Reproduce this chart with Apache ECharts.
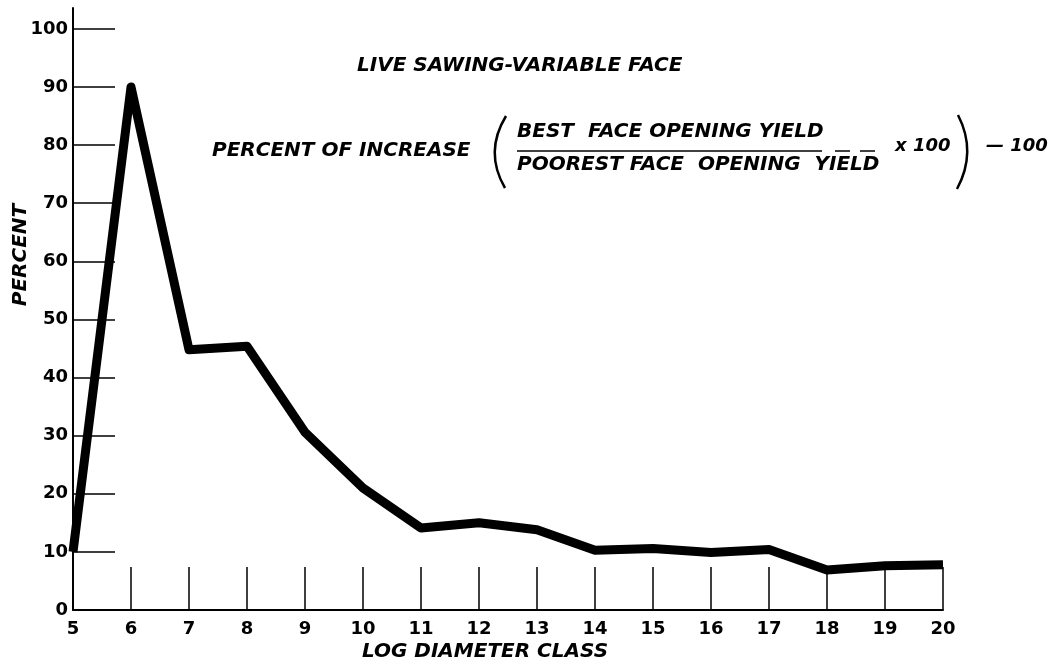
<!DOCTYPE html>
<html>
<head>
<meta charset="utf-8">
<script src="https://cdn.jsdelivr.net/npm/echarts@6/dist/echarts.min.js"></script>
<style>
html,body{margin:0;padding:0;background:#fff;}
#chart{width:1061px;height:669px;}
</style>
</head>
<body>
<div id="chart"></div>
<script>
// Data
const diameterClasses = [5, 6, 7, 8, 9, 10, 11, 12, 13, 14, 15, 16, 17, 18, 19, 20];
const percentIncrease = [10, 90, 44.8, 45.4, 30.6, 21, 14.1, 15, 13.8, 10.3, 10.6, 9.9, 10.4, 6.9, 7.6, 7.8];
const yTickValues = [0, 10, 20, 30, 40, 50, 60, 70, 80, 90, 100];
const yTickMarks = [10, 20, 30, 40, 50, 60, 70, 80, 90, 100];
const titleText = 'LIVE SAWING-VARIABLE FACE';
const formulaLabel = 'PERCENT OF INCREASE';
const numeratorText = 'BEST  FACE OPENING YIELD';
const denominatorText = 'POOREST FACE  OPENING  YIELD';
const timesText = 'x 100';
const minusText = '\u2014 100';
const xAxisName = 'LOG DIAMETER CLASS';
const yAxisName = 'PERCENT';

const FONT = '"DejaVu Sans", "Liberation Sans", Arial, sans-serif';
const chart = echarts.init(document.getElementById('chart'), null, {renderer: 'canvas'});

const seriesData = diameterClasses.map((d, i) => [d, percentIncrease[i]]);

const option = {
  backgroundColor: '#ffffff',
  animation: false,
  grid: {left: 73, right: 118, top: 8, bottom: 59, containLabel: false, outerBoundsMode: 'none'},
  xAxis: {
    type: 'value',
    min: 5,
    max: 20,
    interval: 1,
    name: xAxisName,
    nameLocation: 'middle',
    nameGap: 32,
    nameMoveOverlap: false,
    nameTextStyle: {
      fontFamily: FONT, fontSize: 20, fontWeight: 'bold', fontStyle: 'italic',
      color: '#000', padding: [0, 46, 0, 0]
    },
    axisLine: {show: true, lineStyle: {color: '#000', width: 2}},
    axisTick: {show: true, inside: true, length: 43, lineStyle: {color: '#000', width: 1.5}},
    axisLabel: {
      fontFamily: FONT, fontSize: 18, fontWeight: 'bold', color: '#000', margin: 10
    },
    splitLine: {show: false}
  },
  yAxis: {
    type: 'value',
    min: 0,
    max: 103.6,
    name: yAxisName,
    nameLocation: 'middle',
    nameGap: 42,
    nameRotate: 90,
    nameMoveOverlap: false,
    nameTextStyle: {
      fontFamily: FONT, fontSize: 20, fontWeight: 'bold', fontStyle: 'italic',
      color: '#000', padding: [0, 0, 0, 108]
    },
    axisLine: {show: true, lineStyle: {color: '#000', width: 2}},
    axisTick: {show: true, inside: true, length: 42, customValues: yTickMarks, lineStyle: {color: '#000', width: 1.5}},
    axisLabel: {
      customValues: yTickValues,
      fontFamily: FONT, fontSize: 18, fontWeight: 'bold', color: '#000', margin: 5
    },
    splitLine: {show: false}
  },
  series: [{
    type: 'line',
    data: seriesData,
    showSymbol: false,
    symbol: 'none',
    clip: false,
    lineStyle: {color: '#000', width: 9, join: 'round', cap: 'butt'}
  }],
  graphic: [
    {type: 'text', left: 357, top: 56, style: {text: titleText, font: 'italic bold 20px ' + FONT, fill: '#000'}},
    {type: 'text', left: 212, top: 141, style: {text: formulaLabel, font: 'italic bold 20px ' + FONT, fill: '#000'}},
    {type: 'text', left: 517, top: 122, style: {text: numeratorText, font: 'italic bold 20px ' + FONT, fill: '#000'}},
    {type: 'text', left: 517, top: 155, style: {text: denominatorText, font: 'italic bold 20px ' + FONT, fill: '#000'}},
    {type: 'line', shape: {x1: 517, y1: 151, x2: 822, y2: 151}, style: {stroke: '#000', lineWidth: 1.5}},
    {type: 'line', shape: {x1: 835, y1: 151, x2: 850, y2: 151}, style: {stroke: '#000', lineWidth: 1.5}},
    {type: 'line', shape: {x1: 860, y1: 151, x2: 875, y2: 151}, style: {stroke: '#000', lineWidth: 1.5}},
    {type: 'text', left: 895, top: 137, style: {text: timesText, font: 'italic bold 18px ' + FONT, fill: '#000'}},
    {type: 'text', left: 986, top: 137, style: {text: minusText, font: 'italic bold 18px ' + FONT, fill: '#000'}},
    {type: 'bezierCurve', shape: {x1: 506, y1: 116, x2: 505, y2: 188, cpx1: 484, cpy1: 152}, style: {stroke: '#000', lineWidth: 2.5, fill: null}},
    {type: 'bezierCurve', shape: {x1: 958, y1: 115, x2: 957, y2: 189, cpx1: 977, cpy1: 152}, style: {stroke: '#000', lineWidth: 2.5, fill: null}}
  ]
};
chart.setOption(option);
</script>
</body>
</html>
